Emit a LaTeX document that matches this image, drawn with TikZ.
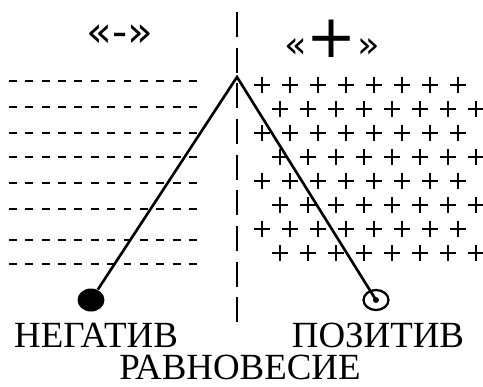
\documentclass[tikz,border=0pt]{standalone}
\usepackage{fontspec}
\setmainfont{Liberation Serif}
\newfontfamily\signfont{DejaVu Sans}
\usetikzlibrary{shapes.geometric, positioning}

\begin{document}
\begin{tikzpicture}[
    x=0.02cm, y=-0.02cm,
    thread/.style={line width=1.5pt, line join=miter},
    boundary/.style={line width=1.4pt, dash pattern=on 14.2pt off 6.1pt},
    minusrow/.style={line width=1.3pt, dash pattern=on 4.55pt off 4.76pt},
    plusmark/.style={line width=1pt},
    ball/.style={ellipse, inner sep=0pt, minimum width=0.54cm, minimum height=0.46cm},
    caption/.style={font=\fontsize{21}{21}\selectfont, anchor=base, inner sep=0pt},
    sign/.style={font=\signfont\fontsize{24}{24}\selectfont, inner sep=0pt}
]
\useasboundingbox (0,0) rectangle (483,386);

% border between the two charged regions
\draw[boundary] (237,12) -- (237,323);

% negative side
\foreach \y in {81,107,133,157,183,209,240,264}
    \draw[minusrow] (9,\y) -- (200,\y);

% positive side
\foreach \y [count=\i] in {85,109,133,157,181,205,229,253} {
    \pgfmathsetmacro{\xs}{isodd(\i) ? 262 : 280}
    \foreach \k in {0,...,7} {
        \pgfmathsetmacro{\xp}{\xs+28*\k}
        \draw[plusmark] (\xp-8,\y) -- (\xp+8,\y) (\xp,\y-8) -- (\xp,\y+8);
    }
}

\node[sign] (minus) at (120,36) {«-»};
\node[sign, font=\signfont\fontsize{21}{21}\selectfont] (plus) at (332,39) {«{\fontsize{34}{34}\selectfont+}»};

% pendulum
\coordinate (apex) at (237,77);
\node[ball, fill=black] (neg) at (91,300) {};
\node[ball, draw, line width=1.3pt, minimum width=0.5cm, minimum height=0.4cm] (pos) at (376,300) {};
\fill (pos.center) circle (3);
\draw[thread] (neg) -- (apex) -- (pos.center);

\node[caption] (neglabel) at (96,347) {НЕГАТИВ};
\node[caption] (poslabel) at (378,347) {ПОЗИТИВ};
\node[caption] (balance) at (240,379) {РАВНОВЕСИЕ};
\end{tikzpicture}
\end{document}
